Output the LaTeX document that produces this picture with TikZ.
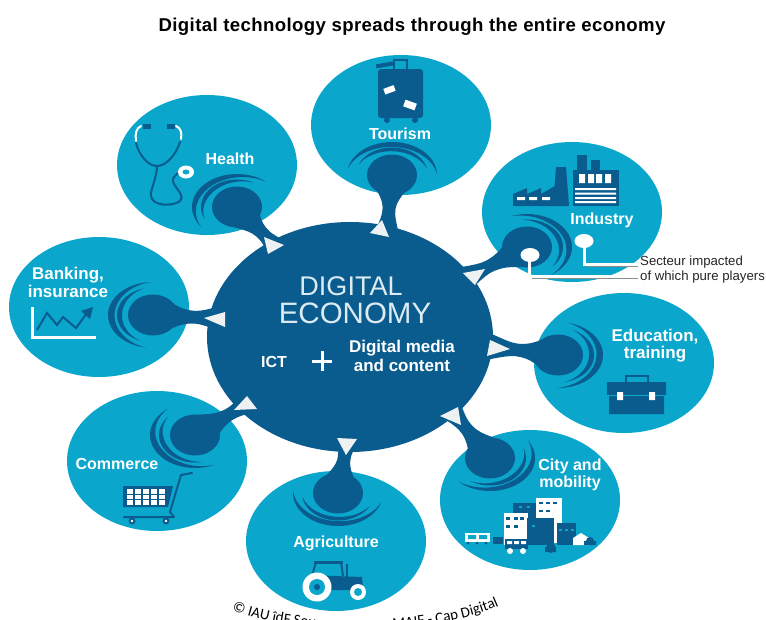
\documentclass[tikz,border=0pt]{standalone}
\usepackage{fontspec}
\setmainfont{Liberation Sans}
\newfontfamily\carl{Carlito}
\usetikzlibrary{shapes.geometric,decorations.text}
\definecolor{cy}{HTML}{0BA6CC}
\definecolor{db}{HTML}{0A5C8F}
\definecolor{tri}{HTML}{EEF1F1}
\definecolor{lt}{HTML}{DCEBF2}
\tikzset{
  bubble/.style={ellipse,fill=cy,inner sep=0,minimum width=180pt,minimum height=140pt},
  lab/.style={text=white,font=\bfseries\fontsize{16}{17.5}\selectfont,align=center,inner sep=0},
  dk/.style={fill=db},
  tub/.style={draw=db,line width=2pt,line cap=round},
  ptr/.style={draw=white,line width=3pt},
}
% tapered ring: back angle, half span, rx, ry, thickness
\newcommand\ringat[5]{%
  \pgfmathsetmacro\ta{#1-#2}\pgfmathsetmacro\tb{#1+#2}%
  \fill[dk] plot[domain=\ta:\tb,samples=31] ({#3*cos(\x)},{#4*sin(\x)})
    -- plot[domain=\tb:\ta,samples=31]
      ({(#3-#5*sin(((\x-\ta)/(2*#2))*180))*cos(\x)},{(#4-0.75*#5*sin(((\x-\ta)/(2*#2))*180))*sin(\x)})
    -- cycle;}
% blob centre, screen angle of the neck, neck length
\newcommand\dropat[3]{%
  \begin{scope}[shift={(#1)}]
    \fill[dk] (0,0) ellipse [x radius=25,y radius=20.5];
    \pgfmathsetmacro\ba{180-(#2)}%
    \ringat{\ba}{84}{45}{33}{6.5}
    \ringat{\ba}{72}{36}{27.5}{5}
    \begin{scope}[rotate=#2]
      \fill[dk] (0,-19) .. controls (15,-19) and (20,-8) .. ({0.66*#3},-6.5)
        .. controls ({0.8*#3},-5.8) and ({0.92*#3},-8) .. ({#3+14},-14)
        -- ({#3+14},14)
        .. controls ({0.92*#3},8) and ({0.8*#3},5.8) .. ({0.66*#3},6.5)
        .. controls (20,8) and (15,19) .. (0,19) -- cycle;
    \end{scope}
  \end{scope}}
\begin{document}
\begin{tikzpicture}[x=1pt,y=-1pt]
\useasboundingbox (0,0) rectangle (766,619);
\fill[white] (0,0) rectangle (766,619);
\begin{scope}
\clip (0,0) rectangle (766,619);

% title
\node[font=\bfseries\fontsize{18.6}{20}\selectfont\addfontfeature{LetterSpace=2.1},inner sep=0] (title) at (412,27) {Digital technology spreads through the entire economy};

% bubbles
\node[bubble] (tourism) at (401,125) {};
\node[bubble] (health) at (207,165) {};
\node[bubble] (industry) at (572,212) {};
\node[bubble] (banking) at (99,307) {};
\node[bubble] (commerce) at (157,461) {};
\node[bubble] (agri) at (336,541) {};
\node[bubble] (city) at (530,500) {};
\node[bubble] (edu) at (624,363) {};

% centre
\node[ellipse,fill=db,inner sep=0,minimum width=286pt,minimum height=230pt] (core) at (350,337) {};

% drops
\dropat{237,207}{-46}{53}
\dropat{392,175}{-95}{50}
\dropat{527,247}{207}{60}
\dropat{153,315}{-3}{58}
\dropat{195,435}{31}{58}
\dropat{338,493}{80}{50}
\dropat{490,458}{129}{55}
\dropat{558,355}{173}{58}

% arrow triangles
\fill[tri] (264,237) -- (284,245) -- (268,254) -- cycle;
\fill[tri] (382,220) -- (389,237) -- (370,233) -- cycle;
\fill[tri] (485,269) -- (463,273) -- (475,285) -- cycle;
\fill[tri] (204,318) -- (225,312) -- (225,327) -- cycle;
\fill[tri] (247,396) -- (257,409) -- (234,410) -- cycle;
\fill[tri] (337,438) -- (357,439) -- (346,455) -- cycle;
\fill[tri] (458,407) -- (440,416) -- (461,425) -- cycle;
\fill[tri] (490,340) -- (510,349) -- (487,356) -- cycle;

% core text
\node[text=lt,font=\fontsize{27}{29}\selectfont,inner sep=0] (dig) at (351,286) {DIGITAL};
\node[text=lt,font=\fontsize{29.5}{31}\selectfont,inner sep=0] (eco) at (355,313) {ECONOMY};
\node[lab] (ict) at (274,362) {ICT};
\draw[white,line width=3pt] (312,361) -- (332,361) (322,351) -- (322,371);
\node[lab,font=\bfseries\fontsize{17}{18.5}\selectfont] (dmc) at (402,356) {Digital media\\and content};

% labels
\node[lab] (l1) at (400,134) {Tourism};
\node[lab] (l2) at (230,159) {Health};
\node[lab] (l3) at (602,220) {Industry};
\node[lab,font=\bfseries\fontsize{17}{18}\selectfont] (l4) at (68,282) {Banking,\\insurance};
\node[lab] (l5) at (117,464) {Commerce};
\node[lab,font=\bfseries\fontsize{17}{17.5}\selectfont] (l6) at (655,345.5) {Education,\\training};
\node[lab,font=\bfseries\fontsize{16}{17}\selectfont] (l7) at (570,475) {City and\\mobility};
\node[lab] (l8) at (336,543) {Agriculture};

% stethoscope
\draw[draw=white,line width=2pt,line cap=round] (136,141) .. controls (135,134) and (136,128) .. (141,126);
\draw[draw=white,line width=2pt,line cap=round] (181,139) .. controls (182,133) and (181,128) .. (176,126);
\fill[dk] (143,124) rectangle (151,128.5);
\fill[dk] (167,124) rectangle (175,128.5);
\draw[tub] (136,143) .. controls (139,155) and (148,166) .. (157,166) .. controls (166,166) and (176,155) .. (180,142);
\draw[tub] (157,166) .. controls (157,178) and (150,190) .. (151,196) .. controls (152,206) and (172,207) .. (180,201) .. controls (187,194) and (168,184) .. (174,177) .. controls (176,174) and (178,173) .. (181,172);
\fill[white] (186,172) ellipse [x radius=8,y radius=6.5];
\fill[cy] (186,172) ellipse [x radius=3.5,y radius=2.5];

% suitcase
\fill[dk,rounded corners=3pt] (378,69) rectangle (423,118);
\draw[draw=db,line width=2pt] (394,69) -- (394,60) -- (407,60) -- (407,69);
\fill[dk,rotate around={10:(384,65)}] (376,63) rectangle (393,67);
\fill[dk] (387,120) circle (3) (415,120) circle (3);
\fill[white,rotate around={20:(389,90)}] (384,87) rectangle (395,93);
\fill[white,rotate around={-20:(410,105)}] (404,101.5) rectangle (416,108.5);

% factory
\fill[dk] (577,155) rectangle (587,172);
\fill[dk] (591,160) rectangle (600,172);
\fill[dk] (573,170) rectangle (619,206);
\fill[dk] (556,167) -- (566,167) -- (569,206) -- (553,206) -- cycle;
\fill[dk] (513,194) -- (527,188) -- (527,194) -- (541,188) -- (541,194) -- (555,186) -- (555,206) -- (513,206) -- cycle;
\fill[white] (579,174) rectangle (585,183) (588,174) rectangle (594,183) (596,174) rectangle (602,183) (605,174) rectangle (611,183);
\fill[white] (575,188) rectangle (616,190) (575,192.5) rectangle (616,194.5) (575,197) rectangle (616,199) (575,201) rectangle (616,203);
\fill[white] (517,197) rectangle (525,200) (529,197) rectangle (537,200) (542,197) rectangle (550,200);

% pointers
\fill[white] (530,255) ellipse [x radius=9.5,y radius=7];
\fill[white] (584,241) ellipse [x radius=9.5,y radius=7];
\coordinate (pa) at (529,256);
\coordinate (pb) at (584,243);
\coordinate (ea) at (638,276);
\coordinate (eb) at (638,264);
\draw[black!45,line width=1pt] (532,278) -- (638,278);
\draw[black!45,line width=1pt] (587,266) -- (638,266);
\draw[ptr] (pa) -- (529,276) -- (ea);
\draw[ptr] (pb) -- (584,264) -- (eb);
\node[anchor=west,inner sep=0,font=\fontsize{13.2}{15}\selectfont,text=black!85] (s1) at (640,262) {Secteur impacted};
\node[anchor=west,inner sep=0,font=\fontsize{13.2}{15}\selectfont,text=black!85] (s2) at (640,277) {of which pure players};

% chart
\draw[white,line width=3pt] (32,307) -- (32,337) -- (96,337);
\draw[draw=db,line width=2pt,line join=miter] (37,330) -- (47,313) -- (57,325) -- (63,317) -- (76,328) -- (87,313);
\fill[dk] (93,307) -- (90,319) -- (81,311) -- cycle;

% cart
\draw[draw=db,line width=2pt,line join=round,line cap=round] (192,473) -- (181,475) -- (170,512) -- (174,517) -- (124,517);
\fill[dk] (123,486) -- (173,486) -- (168,507) -- (123,507) -- cycle;
\foreach \i in {0,...,4} \foreach \j in {0,1,2} {\fill[white] ({127+8*\i},{489+5.5*\j}) rectangle ({133+8*\i},{493.5+5.5*\j});}
\fill[dk] (132,521) circle (3.5) (166,521) circle (3.5);
\fill[white] (132,521) circle (1.4) (166,521) circle (1.4);

% tractor
\draw[draw=db,line width=2pt] (312,576) -- (316,562) -- (341,562) -- (343,576);
\fill[dk] (314,561) rectangle (343,564);
\draw[draw=db,line width=2pt] (347,564) -- (347,578);
\fill[dk] (308,575) -- (362,577) -- (363,588) -- (350,590) -- (320,590) -- (308,585) -- cycle;
\fill[white] (317,587) circle (14.5);
\fill[cy] (317,587) circle (8);
\fill[dk] (317,587) circle (3);
\fill[white] (358,592) circle (8);
\fill[cy] (358,592) circle (4);

% briefcase
\draw[draw=db,line width=2.5pt] (626,382) -- (626,376) -- (648,376) -- (648,382);
\fill[dk] (607,382) -- (666,382) -- (666,395) -- (664,395) -- (664,414) -- (609,414) -- (609,395) -- (607,395) -- cycle;
\draw[cy,line width=.8pt] (607,395) -- (666,395);
\fill[white] (617,392) rectangle (623,400) (649,392) rectangle (655,400);

% city
\fill[white] (465,533) rectangle (490,542);
\fill[cy] (468,535) rectangle (476,539) (479,535) rectangle (487,539);
\fill[dk] (468,543) circle (1.5) (477,543) circle (1.5) (486,543) circle (1.5);
\fill[dk] (493,537) rectangle (503,544);
\fill[dk] (513,503) rectangle (537,545);
\fill[white] (504,513) rectangle (528,545);
\fill[white] (536,498) rectangle (562,543);
\fill[dk] (527,518) rectangle (554,545);
\fill[white] (554,518) rectangle (562,543);
\fill[dk] (557,523) rectangle (576,545);
\fill[white] (573,545) -- (573,538) -- (581,533) -- (589,538) -- (589,545) -- cycle;
\fill[dk] (505,539) rectangle (528,549);
\fill[white] (507,541) rectangle (512,544) (514,541) rectangle (519,544) (521,541) rectangle (526,544);
\fill[white] (510,551) circle (3) (523,551) circle (3);
\fill[dk] (545,552) rectangle (556,547) (551,548) circle (5);
\fill[dk] (584,545) rectangle (596,541) (590,541) circle (4);
\foreach \p in {{508,518},{516,518},{508,526},{516,526},{522,518}} {\fill[dk] (\p) ++(-2,-1.5) rectangle ++(4,3);}
\foreach \p in {{541,503},{548,503},{555,503},{541,511},{548,511}} {\fill[dk] (\p) ++(-2,-1.2) rectangle ++(4,2.4);}
\foreach \p in {{520,507},{528,507},{533,526},{560,530},{566,530},{572,530}} {\fill[cy] (\p) ++(-1.5,-1) rectangle ++(3,2);}

% credit, running off the lower edge of the picture as in the reference
\path[postaction={decorate},decoration={text along path,text align=left,
   text={|\carl\fontsize{15}{15}\selectfont|© IAU îdF Source}}]
   (232,610) .. controls (300,636) and (430,636) .. (499,606);
\path[postaction={decorate},decoration={text along path,text align=right,
   text={|\carl\fontsize{15}{15}\selectfont|MAIF - Cap Digital}}]
   (232,610) .. controls (300,636) and (430,636) .. (499,606);
\end{scope}
\end{tikzpicture}
\end{document}
